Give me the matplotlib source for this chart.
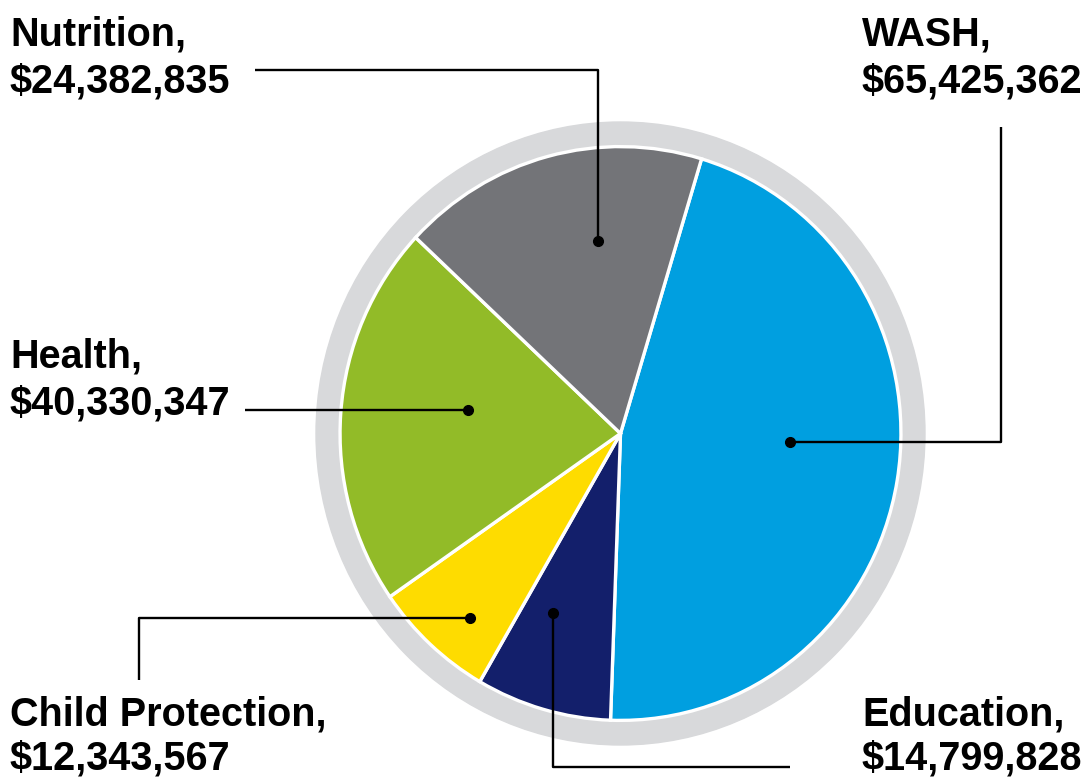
import matplotlib
matplotlib.use("Agg")
import matplotlib.pyplot as plt
from matplotlib.patches import Circle

# slice shares (percent of the circle), clockwise from WASH
categories = ["WASH", "Education", "Child Protection", "Health", "Nutrition"]
amounts = ["$65,425,362", "$14,799,828", "$12,343,567", "$40,330,347", "$24,382,835"]
shares = [45.9, 7.8, 7.0, 21.6, 17.7]
colors = ["#009FE0", "#131F6B", "#FEDC00", "#92BB28", "#737478"]

ring_color = "#D8D9DB"
font = ["Liberation Sans Narrow", "Liberation Sans", "DejaVu Sans"]

fig = plt.figure(figsize=(10.89, 7.78), dpi=100)
W, H = 1089, 778

# pie axes = bounding box of the grey ring (pixels)
x0, y0, x1, y1 = 316, 122, 925, 745
pax = fig.add_axes([x0 / W, 1 - y1 / H, (x1 - x0) / W, (y1 - y0) / H])
pax.add_patch(Circle((0, 0), 1.0, color=ring_color, zorder=0, clip_on=False))
wedges, _ = pax.pie(shares, colors=colors, radius=0.921, startangle=73.2,
                    counterclock=False,
                    wedgeprops=dict(edgecolor="white", linewidth=2.4))
for w in wedges:
    w.set_clip_on(False)
pax.set_aspect("auto")
pax.set_xlim(-1, 1)
pax.set_ylim(-1, 1)
pax.axis("off")

# overlay in pixel coords for labels and leader lines
ax = fig.add_axes([0, 0, 1, 1])
ax.set_xlim(0, W)
ax.set_ylim(H, 0)
ax.axis("off")
ax.patch.set_visible(False)

# label layout: text x, baselines, leader path (ends at the dot)
layout = {
    "WASH": (862, (45, 92), [(1001, 127), (1001, 442), (790, 442)]),
    "Education": (862, (725, 770), [(790, 767), (553, 767), (553, 613)]),
    "Child Protection": (10, (725, 770), [(139, 680), (139, 618), (470, 618)]),
    "Health": (10, (367, 414), [(245, 410), (468, 410)]),
    "Nutrition": (10, (45, 92), [(255, 70), (598, 70), (598, 241)]),
}

for cat, amt in zip(categories, amounts):
    tx, (b1, b2), path = layout[cat]
    ax.text(tx, b1, cat + ",", family=font, fontsize=28.5, fontweight="bold",
            va="baseline", ha="left", color="black")
    ax.text(tx, b2, amt, family=font, fontsize=28.5, fontweight="bold",
            va="baseline", ha="left", color="black")
    xs = [p[0] for p in path]
    ys = [p[1] for p in path]
    ax.plot(xs, ys, color="black", lw=1.7, solid_capstyle="butt")
    ax.plot(xs[-1], ys[-1], "o", color="black", markersize=7)

fig.savefig("out.png", dpi=100, facecolor="white")
